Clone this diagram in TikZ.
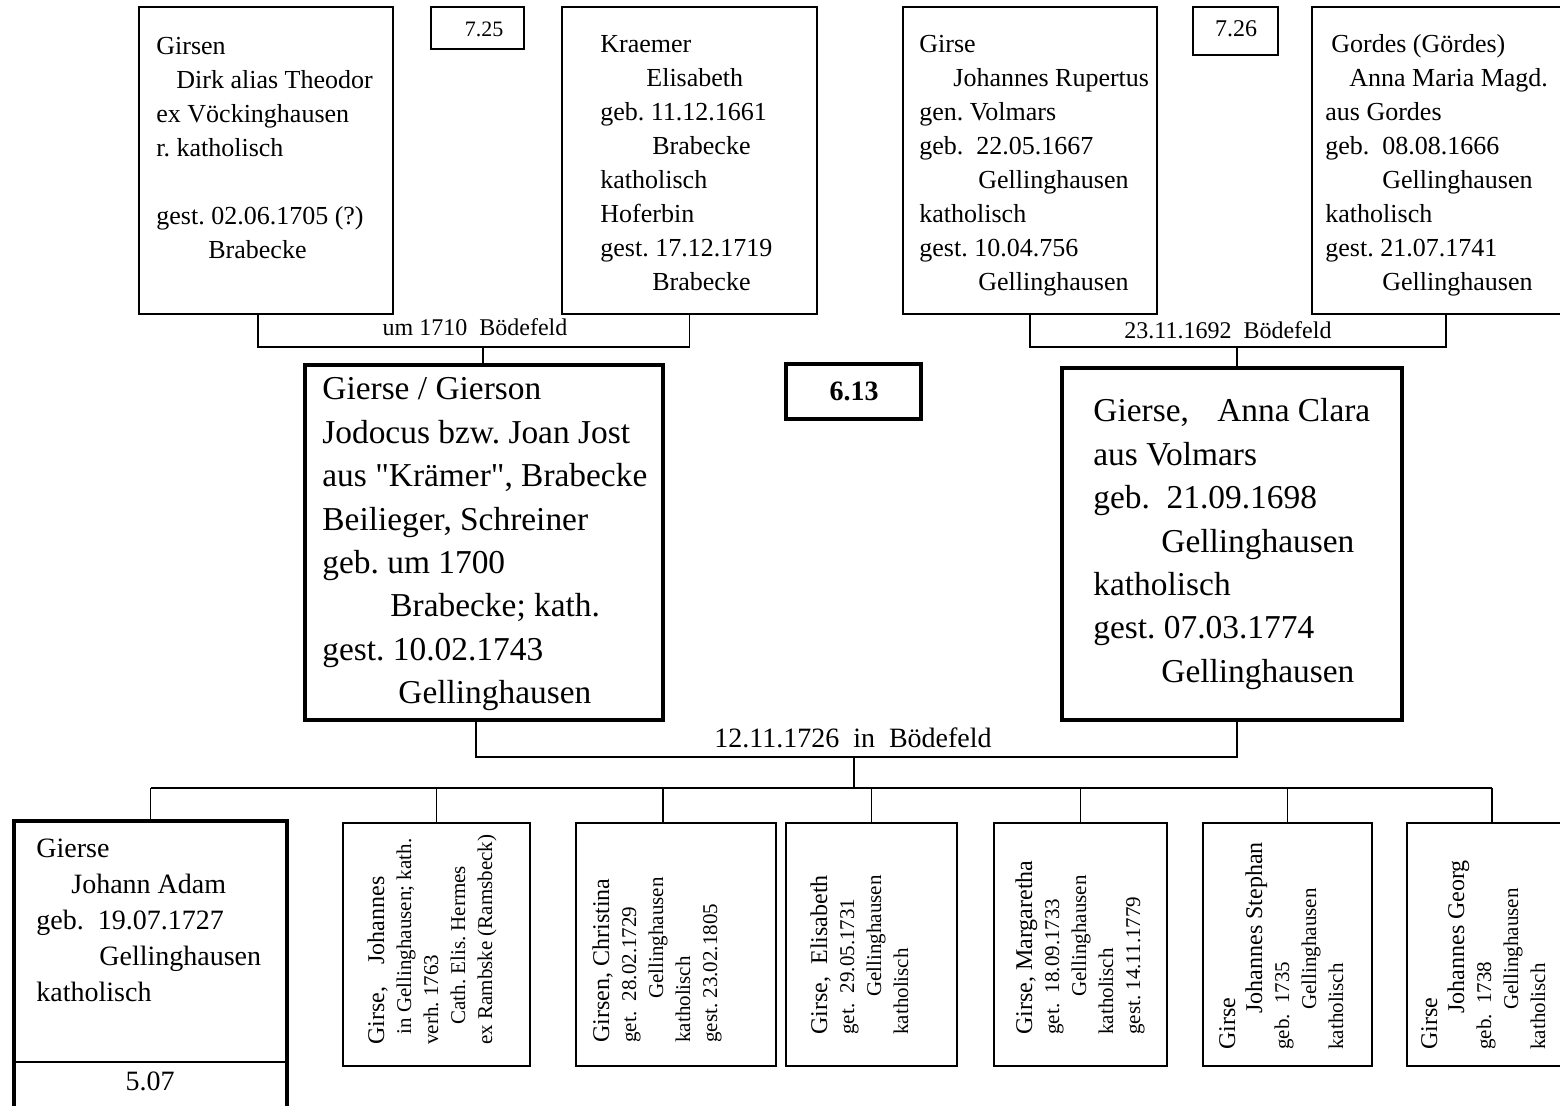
\documentclass[tikz,border=0pt]{standalone}
\usepackage{fontspec}
\setmainfont{Liberation Serif}
\usetikzlibrary{fit}
% multi-line cell text, first baseline is the node baseline
\newcommand\tlines[1]{\begin{tabular}[t]{@{}l@{}}#1\end{tabular}}
\newcommand\fsz[2]{\fontsize{#1pt}{#2pt}\selectfont}
\frenchspacing

\begin{document}
\begin{tikzpicture}[x=0.5pt,y=-0.5pt,
  thinbox/.style={draw, line width=0.8pt, inner sep=0pt},
  thickbox/.style={draw, line width=2.2pt, inner sep=0pt},
  conn/.style={line width=0.8pt},
  bar/.style={line width=1.2pt},
  txt/.style={inner sep=0pt, anchor=base west},
  vtxt/.style={inner sep=0pt, anchor=base west, rotate=90, font=\fsz{10.5}{13.5}},
  lbl/.style={inner sep=0pt, anchor=base},
  smallfont/.style={font=\fsz{13}{17}},
  bigfont/.style={font=\fsz{16.7}{21.7}},
]
\useasboundingbox (0,0) rectangle (1560,1106);
\clip (0,0) rectangle (1560,1106);

% ---------- grandparents ----------
\node[thinbox, fit={(139,7) (393,314)}] (fA) {};
\node[txt, smallfont] (tA) at (156,55) {\tlines{Girsen\\
  \hspace{10pt}Dirk alias Theodor\\
  ex Vöckinghausen\\
  r. katholisch\\
  \\
  gest. 02.06.1705 (?)\\
  \hspace{26pt}Brabecke}};

\node[thinbox, fit={(431,7) (524,49)}] (n725) {};
\node[lbl, font=\fsz{11}{13}] (t725) at (484,37) {7.25};

\node[thinbox, fit={(562,7) (817,314)}] (fB) {};
\node[txt, smallfont] (tB) at (600,53) {\tlines{Kraemer\\
  \hspace{23pt}Elisabeth\\
  geb. 11.12.1661\\
  \hspace{26pt}Brabecke\\
  katholisch\\
  Hoferbin\\
  gest. 17.12.1719\\
  \hspace{26pt}Brabecke}};

\node[thinbox, fit={(903,7) (1157,314)}] (fC) {};
\node[txt, smallfont] (tC) at (919,53) {\tlines{Girse\\
  \hspace{17pt}Johannes Rupertus\\
  gen. Volmars\\
  geb.\ \ 22.05.1667\\
  \hspace{29.5pt}Gellinghausen\\
  katholisch\\
  gest. 10.04.756\\
  \hspace{29.5pt}Gellinghausen}};

\node[thinbox, fit={(1193,7) (1278,55)}] (n726) {};
\node[lbl, font=\fsz{12}{14}] (t726) at (1236,37) {7.26};

\node[thinbox, fit={(1312,7) (1580,314)}] (fD) {};
\node[txt, smallfont] (tD) at (1325,53) {\tlines{\hspace{3pt}Gordes (Gördes)\\
  \hspace{12pt}Anna Maria Magd.\\
  aus Gordes\\
  geb.\ \ 08.08.1666\\
  \hspace{28.5pt}Gellinghausen\\
  katholisch\\
  gest. 21.07.1741\\
  \hspace{28.5pt}Gellinghausen}};

% ---------- parents ----------
\node[thickbox, fit={(305,365) (663,720)}] (jod) {};
\node[txt, bigfont] (tjod) at (322,400) {\tlines{Gierse / Gierson\\
  Jodocus bzw. Joan Jost\\
  aus \textquotedbl Krämer\textquotedbl, Brabecke\\
  Beilieger, Schreiner\\
  geb. um 1700\\
  \hspace{34pt}Brabecke; kath.\\
  gest. 10.02.1743\\
  \hspace{38pt}Gellinghausen}};

\node[thickbox, fit={(786,364) (921,419)}] (n613) {};
\node[lbl, font=\fsz{14}{16}\bfseries] (t613) at (854,401) {6.13};

\node[thickbox, fit={(1062,368) (1402,720)}] (anna) {};
\node[txt, bigfont] (tanna) at (1093,422) {\tlines{Gierse,\hspace{10pt} Anna Clara\\
  aus Volmars\\
  geb.\ \ 21.09.1698\\
  \hspace{34pt}Gellinghausen\\
  katholisch\\
  gest. 07.03.1774\\
  \hspace{34pt}Gellinghausen}};

% ---------- children ----------
\node[thickbox, fit={(14,821) (287,1130)}] (c1) {};
\coordinate (c1div) at (0,1062);
\draw[bar] (c1.west |- c1div) -- (c1.east |- c1div);
\node[txt, font=\fsz{14}{18}] (tc1) at (36,858) {\tlines{Gierse\\
  \hspace{17.5pt}Johann Adam\\
  geb.\ \ 19.07.1727\\
  \hspace{31.5pt}Gellinghausen\\
  katholisch}};
\node[lbl, font=\fsz{14}{16}] (tc1b) at (150,1090) {5.07};

\node[thinbox, fit={(343,823) (530,1066)}] (c2) {};
\node[vtxt] (tc2) at (384,1045) {\tlines{{\fsz{12}{13.5}Girse,\hspace{8pt} Johannes}\\
  *\ \ in Gellinghausen; kath.\\
  verh. 1763\\
  \hspace{10pt}Cath. Elis. Hermes\\
  ex Rambske (Ramsbeck)}};

\node[thinbox, fit={(576,823) (776,1066)}] (c3) {};
\node[vtxt] (tc3) at (609,1043) {\tlines{{\fsz{12}{13.5}Girsen, Christina}\\
  get.\ \ 28.02.1729\\
  \hspace{22pt}Gellinghausen\\
  katholisch\\
  gest. 23.02.1805}};

\node[thinbox, fit={(786,823) (957,1066)}] (c4) {};
\node[vtxt] (tc4) at (827,1035) {\tlines{{\fsz{12}{13.5}Girse,\ \ Elisabeth}\\
  get.\ \ 29.05.1731\\
  \hspace{19pt}Gellinghausen\\
  katholisch}};

\node[thinbox, fit={(994,823) (1167,1066)}] (c5) {};
\node[vtxt] (tc5) at (1032,1035) {\tlines{{\fsz{12}{13.5}Girse, Margaretha}\\
  get.\ \ 18.09.1733\\
  \hspace{19pt}Gellinghausen\\
  katholisch\\
  gest. 14.11.1779}};

\node[thinbox, fit={(1203,823) (1372,1066)}] (c6) {};
\node[vtxt] (tc6) at (1235,1050) {\tlines{{\fsz{12}{13.5}Girse}\\
  {\fsz{12}{13.5}\hspace{18pt}Johannes Stephan}\\
  geb.\ \ 1735\\
  \hspace{20pt}Gellinghausen\\
  katholisch}};

\node[thinbox, fit={(1407,823) (1577,1066)}] (c7) {};
\node[vtxt] (tc7) at (1437,1050) {\tlines{{\fsz{12}{13.5}Girse}\\
  {\fsz{12}{13.5}\hspace{18pt}Johannes Georg}\\
  geb.\ \ 1738\\
  \hspace{20pt}Gellinghausen\\
  katholisch}};

% ---------- marriage connectors ----------
\coordinate (m1) at (483,347);
\draw[conn] ([xshift=-4pt]fA.south) |- (m1) -| (fB.south);
\draw[conn] (m1) -- (m1 |- jod.north);
\node[lbl, font=\fsz{12}{14}] (l1) at (475,336) {um 1710\ \ Bödefeld};

\coordinate (m2) at (1237,347);
\draw[conn] (fC.south) |- (m2) -| (fD.south);
\draw[conn] (m2) -- (m2 |- anna.north);
\node[lbl, font=\fsz{12}{14}] (l2) at (1228,339) {23.11.1692\ \ Bödefeld};

\coordinate (m3) at (854,757);
\draw[conn] ([xshift=-4pt]jod.south) |- (m3) -| ([xshift=2.5pt]anna.south);
\node[lbl, font=\fsz{14}{16}] (l3) at (853,748) {12.11.1726\ \ in\ \ Bödefeld};

% ---------- children bar ----------
\coordinate (m4) at (854,788);
\draw[conn] (m3) -- (m4);
\draw[bar] (c1.north |- m4) -- (c7.north |- m4);
\coordinate (c3top) at ([xshift=-6.5pt]c3.north);
\foreach \c in {c1,c2,c4,c5,c6,c7}
  \draw[conn] (\c.north |- m4) -- (\c.north);
\draw[conn] (c3top |- m4) -- (c3top);
\end{tikzpicture}
\end{document}
